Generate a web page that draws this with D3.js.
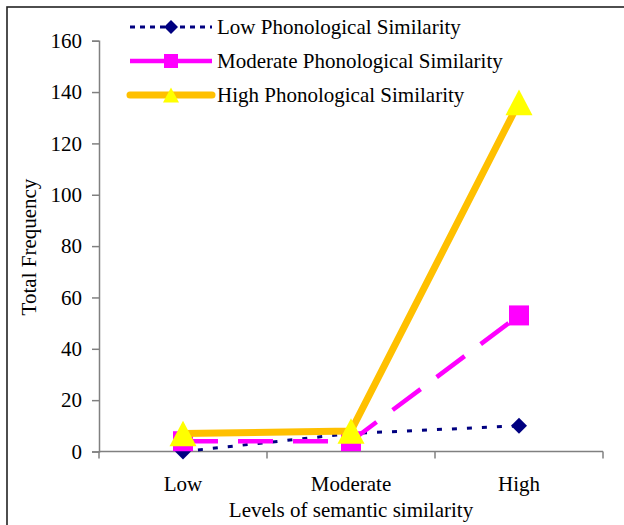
<!DOCTYPE html>
<html><head><meta charset="utf-8">
<script src="https://cdn.jsdelivr.net/npm/d3@7"></script>
<style>body{margin:0;background:#fff}svg{display:block}text{font-family:"Liberation Serif","Times New Roman",serif;fill:#000}</style>
</head><body><svg id="c" width="624" height="525"></svg>
<script>
const categories = ["Low", "Moderate", "High"];
const lowPhon = [0, 7, 10];
const moderatePhon = [4, 4, 53];
const highPhon = [7, 8, 136];
const seriesNames = ["Low Phonological Similarity", "Moderate Phonological Similarity", "High Phonological Similarity"];
const yTicks = [0, 20, 40, 60, 80, 100, 120, 140, 160];

const FS = "21px";
const svg = d3.select("#c");
// frame
svg.append("rect").attr("x", 7).attr("y", 7).attr("width", 640).attr("height", 540)
  .attr("fill", "none").attr("stroke", "#222").attr("stroke-width", 1.6);

const x = d3.scaleBand().domain(categories).range([99, 603]);
const y = d3.scaleLinear().domain([0, 160]).range([451.5, 40.7]);
const cx = c => x(c) + x.bandwidth() / 2;

// axes
const yAxis = d3.axisLeft(y).tickValues(yTicks).tickSize(7).tickPadding(10);
const gy = svg.append("g").attr("transform", "translate(99,0)").call(yAxis);
const xAxis = d3.axisBottom(x).tickSize(7).tickPadding(16);
const gx = svg.append("g").attr("transform", "translate(0,451.5)").call(xAxis);
gx.selectAll(".tick line").remove();
gx.selectAll(".tick text").attr("dy", "0.8em");
[gx, gy].forEach(g => {
  g.select(".domain").attr("stroke", "#808080").attr("stroke-width", 1.5);
  g.selectAll("text").style("font-size", FS).style("font-family", '"Liberation Serif",serif').attr("fill", "#000");
  g.selectAll(".tick line").attr("stroke", "#808080").attr("stroke-width", 1.5);
});
gx.select(".domain").attr("d", "M99,0H603");
const edges = x.domain().map(c => x(c)).concat([x.range()[1]]);
gx.selectAll(".edge").data(edges).join("line").attr("class", "edge")
  .attr("x1", d => d).attr("x2", d => d).attr("y1", 0).attr("y2", 7)
  .attr("stroke", "#808080").attr("stroke-width", 1.5);

// axis titles
svg.append("text").attr("transform", "translate(36,247) rotate(-90)")
  .attr("text-anchor", "middle").style("font-size", FS).text("Total Frequency");
svg.append("text").attr("x", 351).attr("y", 517)
  .attr("text-anchor", "middle").style("font-size", FS).text("Levels of semantic similarity");

const line = d3.line().x((d, i) => cx(categories[i])).y(d => y(d));

const specs = [
  {data: lowPhon, color: "#000080", width: 3, dash: "5,10", legendDash: "5,5", marker: "diamond", fill: "#000080", size: 16, legSize: 14},
  {data: moderatePhon, color: "#FF00FF", width: 4.5, dash: "35,20", legendDash: "40,8", marker: "square", fill: "#FF00FF", size: 20, legSize: 14},
  {data: highPhon, color: "#FFC000", width: 7, dash: null, legendDash: null, marker: "triangle", fill: "#FFFF00", size: 27, legSize: 16}
];

function drawMarker(g, type, px, py, s, fill) {
  if (type === "diamond") {
    const h = s / 2;
    g.append("path").attr("d", `M${px},${py - h}L${px + h},${py}L${px},${py + h}L${px - h},${py}Z`).attr("fill", fill);
  } else if (type === "square") {
    g.append("rect").attr("x", px - s / 2).attr("y", py - s / 2).attr("width", s).attr("height", s).attr("fill", fill);
  } else {
    const h = s * 0.95;
    g.append("path").attr("d", `M${px},${py - h / 2}L${px + s / 2},${py + h / 2}L${px - s / 2},${py + h / 2}Z`).attr("fill", fill);
  }
}

specs.forEach(sp => {
  const g = svg.append("g");
  g.append("path").attr("d", line(sp.data)).attr("fill", "none")
    .attr("stroke", sp.color).attr("stroke-width", sp.width)
    .attr("stroke-dasharray", sp.dash).attr("stroke-linejoin", "round");
  sp.data.forEach((v, i) => drawMarker(g, sp.marker, cx(categories[i]), y(v), sp.size, sp.fill));
});

// legend
const legY = [27, 61, 95];
specs.forEach((sp, i) => {
  const g = svg.append("g");
  g.append("line").attr("x1", 130).attr("x2", 212).attr("y1", legY[i]).attr("y2", legY[i])
    .attr("stroke", sp.color).attr("stroke-width", sp.width)
    .attr("stroke-dasharray", sp.legendDash)
    .attr("stroke-linecap", sp.dash ? "butt" : "round");
  drawMarker(g, sp.marker, 171, legY[i], sp.legSize, sp.fill);
  g.append("text").attr("x", 217).attr("y", legY[i] + 7).style("font-size", FS).text(seriesNames[i]);
});
</script></body></html>
